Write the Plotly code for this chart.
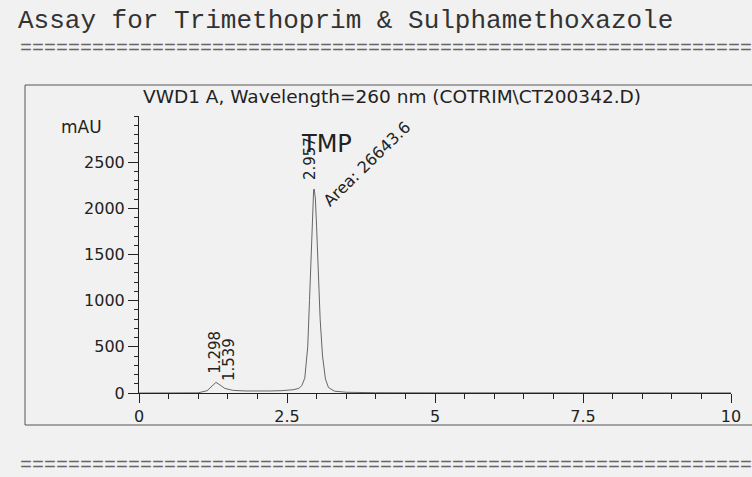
import plotly.graph_objects as go

# ---- data ----
time_min = [0.0, 0.5, 1.0, 1.15, 1.25, 1.30, 1.35, 1.45, 1.54, 1.60, 1.80, 2.00, 2.20, 2.40,
            2.60, 2.70, 2.75, 2.80, 2.85, 2.88, 2.91, 2.93, 2.95, 2.96, 2.98, 3.00, 3.03,
            3.06, 3.10, 3.15, 3.20, 3.30, 3.50, 4.0, 5.0, 6.0, 7.0, 8.0, 9.0, 10.0]
signal_mau = [0, 0, 2, 25, 85, 115, 95, 50, 35, 28, 22, 20, 22, 25,
              35, 50, 80, 160, 500, 1000, 1600, 2000, 2200, 2210, 2100, 1800, 1300,
              800, 400, 150, 60, 20, 8, 3, 2, 1, 1, 1, 1, 1]
peak_times = [1.298, 1.539, 2.957]
peak_labels = ["1.298", "1.539", "2.957"]
x_ticks = [0, 2.5, 5, 7.5, 10]
x_tick_text = ["0", "2.5", "5", "7.5", "10"]
y_ticks = [0, 500, 1000, 1500, 2000, 2500]

W, H = 752, 477
L, R, T, B = 139, 731, 116, 393
BG = "#f1f1f1"
INK = "#222222"

def px(xp):
    return (xp - L) / (R - L)

def py(yp):
    return (B - yp) / (B - T)

fig = go.Figure()
fig.add_trace(go.Scatter(x=time_min, y=signal_mau, mode="lines",
                         line=dict(color="#666666", width=1), hoverinfo="skip"))

fig.update_layout(
    width=W, height=H,
    margin=dict(l=L, r=W - R, t=T, b=H - B, pad=0),
    paper_bgcolor=BG, plot_bgcolor=BG,
    showlegend=False,
    font=dict(family="DejaVu Sans, Arial", size=16, color=INK),
)
fig.update_xaxes(range=[0, 10], showgrid=False, zeroline=False,
                 showline=True, linecolor=INK, linewidth=1,
                 tickvals=x_ticks, ticktext=x_tick_text, ticks="outside", ticklen=9,
                 tickcolor=INK, tickfont=dict(size=16),
                 minor=dict(dtick=0.5, ticks="outside", ticklen=5, tickcolor=INK))
fig.update_yaxes(range=[0, 3000], showgrid=False, zeroline=False,
                 showline=True, linecolor=INK, linewidth=1,
                 tickvals=y_ticks, ticks="outside", ticklen=10, tickcolor=INK,
                 tickfont=dict(size=16),
                 minor=dict(dtick=100, ticks="outside", ticklen=4, tickcolor=INK))

# outer frame
fig.add_shape(type="rect", xref="paper", yref="paper",
              x0=px(25), x1=px(790), y0=py(425), y1=py(85),
              line=dict(color="#555555", width=1), layer="below")

MONO = "Liberation Mono, Courier New, monospace"
ann = []
ann.append(dict(text="Assay for Trimethoprim &amp; Sulphamethoxazole", xref="paper", yref="paper",
                x=px(16), y=py(21), xanchor="left", yanchor="middle", showarrow=False,
                font=dict(family=MONO, size=26, color="#333333")))
for yy in (49, 465):
    ann.append(dict(text="=" * 61, xref="paper", yref="paper",
                    x=px(18), y=py(yy), xanchor="left", yanchor="middle", showarrow=False,
                    font=dict(family=MONO, size=20, color="#666666")))
ann.append(dict(text="VWD1 A, Wavelength=260 nm (COTRIM\\CT200342.D)", xref="paper", yref="paper",
                x=px(392), y=py(97), xanchor="center", yanchor="middle", showarrow=False,
                font=dict(size=18.5)))
ann.append(dict(text="mAU", xref="paper", yref="paper", x=px(81), y=py(127),
                xanchor="center", yanchor="middle", showarrow=False, font=dict(size=17)))
# peak labels
shifts = [-1, -1, -4]
centers = [352, 360, 159]
for t, lab, s, c in zip(peak_times, peak_labels, shifts, centers):
    ann.append(dict(text=lab, x=t, xref="x", yref="paper", y=py(c), xshift=s,
                    xanchor="center", yanchor="middle", textangle=-90, showarrow=False,
                    font=dict(size=15)))
ann.append(dict(text="TMP", xref="paper", yref="paper", x=px(326), y=py(144),
                xanchor="center", yanchor="middle", showarrow=False, font=dict(size=24)))
ann.append(dict(text="Area: 26643.6", xref="paper", yref="paper", x=px(366), y=py(164),
                xanchor="center", yanchor="middle", textangle=-44, showarrow=False,
                font=dict(size=16)))
fig.update_layout(annotations=ann)

fig.write_html("out.html", post_script="document.body.style.margin='0';",
               config={"displayModeBar": False})
